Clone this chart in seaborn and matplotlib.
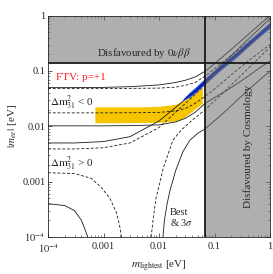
import numpy as np
import matplotlib
matplotlib.use("Agg")
import matplotlib.pyplot as plt
import seaborn as sns

# axis ranges and bounds
m_range = [1e-4, 1.0]
mee_range = [1e-4, 1.0]
mee_0vbb = 0.14
m_cosmo = 0.068

tick_vals = [1e-4, 1e-3, 1e-2, 1e-1, 1.0]
tick_labels = [r"$10^{-4}$", "0.001", "0.01", "0.1", "1"]

# m_ee curves (solid = 3 sigma, dashed = best fit)
m_grid = [1e-4, 3e-4, 1e-3, 3e-3, 0.01, 0.02, 0.03, 0.045, 0.068, 0.1, 0.2, 0.4, 0.7, 1.0]
io_hi_solid = [0.050, 0.050, 0.0505, 0.052, 0.056, 0.062, 0.068, 0.078, 0.099, 0.135, 0.245, 0.45, 0.74, 0.98]
io_hi_dash = [0.048, 0.048, 0.048, 0.0485, 0.049, 0.051, 0.055, 0.062, 0.081, 0.11, 0.19, 0.33, 0.50, 0.63]
io_lo_dash = [0.0175, 0.0175, 0.0175, 0.0176, 0.0178, 0.019, 0.021, 0.026, 0.035, 0.047, 0.085, 0.15, 0.23, 0.30]
io_lo_solid = [0.0102, 0.0102, 0.0102, 0.0103, 0.0106, 0.012, 0.014, 0.018, 0.026, 0.033, 0.05, 0.08, 0.12, 0.15]
no_hi_solid = [0.0050, 0.0050, 0.0053, 0.0065, 0.0125, 0.022, 0.031, 0.045, 0.068, 0.098, 0.19, 0.37, 0.63, 0.88]
no_hi_dash = [0.0039, 0.0039, 0.0041, 0.0050, 0.0095, 0.018, 0.026, 0.038, 0.057, 0.082, 0.16, 0.30, 0.47, 0.58]

no_lo_dash_m1 = [1e-4, 3e-4, 6e-4, 9e-4, 1.3e-3, 1.7e-3, 1.95e-3, 2.1e-3]
no_lo_dash_y1 = [0.00145, 0.0014, 0.00115, 0.0008, 0.0005, 0.00028, 0.00016, 0.0001]
no_lo_dash_m2 = [0.0072, 0.0078, 0.0088, 0.0096, 0.012, 0.0178, 0.025, 0.04, 0.068, 0.15, 0.4, 1.0]
no_lo_dash_y2 = [0.0001, 0.0002, 0.0005, 0.0007, 0.0018, 0.0056, 0.0085, 0.013, 0.02, 0.042, 0.11, 0.27]

no_lo_solid_m1 = [1e-4, 2e-4, 3e-4, 4e-4, 4.6e-4, 5e-4, 5.2e-4]
no_lo_solid_y1 = [0.0004, 0.00037, 0.0003, 0.0002, 0.00014, 0.00011, 0.0001]
no_lo_solid_m2 = [0.0118, 0.0125, 0.014, 0.0158, 0.02, 0.027, 0.036, 0.05, 0.068, 0.15, 0.4, 1.0]
no_lo_solid_y2 = [0.0001, 0.0002, 0.0004, 0.0007, 0.0016, 0.0035, 0.0056, 0.0075, 0.009, 0.018, 0.045, 0.1]

# FTV yellow band
ftv_m = [0.0007, 0.002, 0.005, 0.01, 0.02, 0.027, 0.04, 0.06]
ftv_lo = [0.0116, 0.0116, 0.0117, 0.0118, 0.0125, 0.014, 0.019, 0.026]
ftv_hi = [0.0225, 0.0225, 0.0225, 0.023, 0.025, 0.029, 0.038, 0.055]

# FTV blue band
blue_m = [0.027, 0.035, 0.045, 0.068, 0.12, 0.25, 0.5, 1.0]
blue_core_lo = [0.030, 0.035, 0.042, 0.062, 0.103, 0.188, 0.35, 0.64]
blue_core_hi = [0.031, 0.039, 0.048, 0.071, 0.118, 0.215, 0.40, 0.73]
blue_out_lo = [0.0295, 0.033, 0.040, 0.058, 0.097, 0.176, 0.33, 0.60]
blue_out_hi = [0.031, 0.041, 0.051, 0.075, 0.124, 0.227, 0.42, 0.77]

sns.set_theme(style="ticks")
plt.rcParams["font.family"] = ["Liberation Serif", "DejaVu Serif"]
plt.rcParams["mathtext.fontset"] = "stix"
plt.rcParams["xtick.direction"] = "in"
plt.rcParams["ytick.direction"] = "in"

fig = plt.figure(figsize=(2.73, 2.74), dpi=100)
ax = fig.add_axes([0.176, 0.135, 0.813, 0.808])
ax.set_xscale("log")
ax.set_yscale("log")

lw = 0.6
dash = (3.5, 2.2)
for y in [io_hi_solid, io_lo_solid, no_hi_solid]:
    sns.lineplot(x=m_grid, y=y, ax=ax, color="k", lw=lw, zorder=2)
for y in [io_hi_dash, io_lo_dash, no_hi_dash]:
    sns.lineplot(x=m_grid, y=y, ax=ax, color="k", lw=lw, dashes=dash, zorder=2)
sns.lineplot(x=no_lo_dash_m1, y=no_lo_dash_y1, ax=ax, color="k", lw=lw, dashes=dash, zorder=2)
sns.lineplot(x=no_lo_dash_m2, y=no_lo_dash_y2, ax=ax, color="k", lw=lw, dashes=dash, zorder=2)
sns.lineplot(x=no_lo_solid_m1, y=no_lo_solid_y1, ax=ax, color="k", lw=lw, zorder=2)
sns.lineplot(x=no_lo_solid_m2, y=no_lo_solid_y2, ax=ax, color="k", lw=lw, zorder=2)

ax.fill_between(ftv_m, ftv_lo, ftv_hi, color="#f7c400", lw=0, zorder=1.5)
ax.fill_between(blue_m, blue_out_lo, blue_out_hi, color="#3c6ed8", lw=0, zorder=3)
ax.fill_between(blue_m, blue_core_lo, blue_core_hi, color="#0a18b8", lw=0, zorder=3.1)

# disfavoured region (semi-transparent overlay)
ax.fill_between([m_range[0], m_cosmo, m_cosmo, m_range[1]],
                [mee_0vbb, mee_0vbb, mee_range[0], mee_range[0]], mee_range[1],
                color="#6e6e6e", alpha=0.55, lw=0, zorder=4)
ax.axhline(mee_0vbb, color="k", lw=1.3, zorder=5)
ax.axvline(m_cosmo, color="k", lw=1.3, zorder=5)

ax.set_xlim(m_range)
ax.set_ylim(mee_range)
ax.set_xticks(tick_vals)
ax.set_xticklabels(tick_labels)
ax.set_yticks(tick_vals)
ax.set_yticklabels(tick_labels)
ax.tick_params(which="both", top=True, right=True, labelsize=7.5)
ax.tick_params(axis="x", pad=3.5)
ax.tick_params(axis="y", pad=2)
ax.tick_params(which="major", length=3, width=0.5)
ax.tick_params(which="minor", length=1.6, width=0.4)
for s in ax.spines.values():
    s.set_linewidth(0.6)
    s.set_zorder(6)

ax.set_xlabel(r"$m_{\mathrm{lightest}}$ [eV]", fontsize=8, labelpad=3)
ax.set_ylabel(r"$|m_{ee}|$ [eV]", fontsize=8, labelpad=2)

ax.text(0.43, 0.83, r"Disfavoured by $0\nu\beta\beta$", transform=ax.transAxes,
        fontsize=7.8, ha="center", va="center", zorder=7)
ax.text(0.902, 0.41, "Disfavoured by Cosmology", transform=ax.transAxes,
        fontsize=8, rotation=90, ha="center", va="center", zorder=7)
ax.text(0.035, 0.72, "FTV: p=+1", transform=ax.transAxes, color="#ff1a1a",
        fontsize=8, ha="left", va="center", zorder=7)
ax.text(0.01, 0.605, r"$\Delta\mathrm{m}^2_{31}$ < 0", transform=ax.transAxes,
        fontsize=8, ha="left", va="center", zorder=7)
ax.text(0.01, 0.33, r"$\Delta\mathrm{m}^2_{31}$ > 0", transform=ax.transAxes,
        fontsize=8, ha="left", va="center", zorder=7)
ax.text(0.55, 0.085, "Best\n& 3$\\sigma$", transform=ax.transAxes,
        fontsize=7.5, ha="left", va="center", linespacing=0.95, zorder=7)

fig.savefig("out.png", dpi=100)
